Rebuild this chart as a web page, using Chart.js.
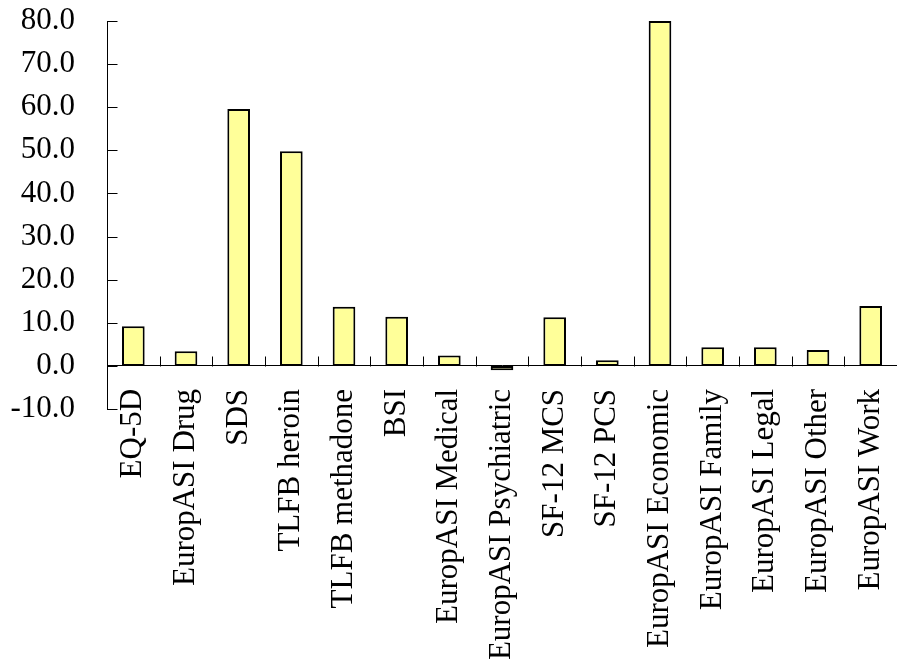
<!DOCTYPE html>
<html>
<head>
<meta charset="utf-8">
<script src="https://cdn.jsdelivr.net/npm/chart.js@4/dist/chart.umd.min.js"></script>
<style>
  html, body { margin: 0; padding: 0; background: #ffffff; }
  #wrap { width: 897px; height: 661px; }
</style>
</head>
<body>
<div id="wrap"><canvas id="chart" width="897" height="661"></canvas></div>
<script>
// Outcome measures and their values
const categories = [
  'EQ-5D', 'EuropASI Drug', 'SDS', 'TLFB heroin', 'TLFB methadone', 'BSI',
  'EuropASI Medical', 'EuropASI Psychiatric', 'SF-12 MCS', 'SF-12 PCS',
  'EuropASI Economic', 'EuropASI Family', 'EuropASI Legal', 'EuropASI Other',
  'EuropASI Work'
];
const values = [9.2, 3.4, 59.6, 49.8, 13.7, 11.4, 2.4, -1.0, 11.3, 1.3, 80.0, 4.3, 4.3, 3.7, 13.9];
const yMin = -10;
const yMax = 80;
const yStep = 10;

const FONT = { family: '"Liberation Serif", "Times New Roman", serif', size: 31 };

// Short tick marks pointing into the plot area
const inwardTicks = {
  id: 'inwardTicks',
  afterDatasetsDraw(chart) {
    const { ctx, scales: { x, y } } = chart;
    const len = 10;
    ctx.save();
    ctx.strokeStyle = '#000000';
    ctx.lineWidth = 1;
    ctx.beginPath();
    const ax = Math.round(x.left) + 0.5;
    y.ticks.forEach(t => {
      const py = Math.round(y.getPixelForValue(t.value)) + 0.5;
      ctx.moveTo(ax, py);
      ctx.lineTo(ax + len, py);
    });
    const y0 = Math.round(y.getPixelForValue(0)) + 0.5;
    for (let i = 1; i < categories.length; i++) {
      const px = Math.round((x.getPixelForValue(i - 1) + x.getPixelForValue(i)) / 2) + 0.5;
      ctx.moveTo(px, y0);
      ctx.lineTo(px, y0 - len);
    }
    ctx.stroke();
    ctx.restore();
  }
};

new Chart(document.getElementById('chart'), {
  type: 'bar',
  data: {
    labels: categories,
    datasets: [{
      data: values,
      backgroundColor: '#FFFF99',
      borderColor: '#000000',
      borderWidth: 2,
      borderSkipped: false,
      barPercentage: 0.43,
      categoryPercentage: 1.0
    }]
  },
  options: {
    responsive: false,
    animation: false,
    layout: { padding: { left: 0, top: 21, right: 0, bottom: 252 } },
    plugins: { legend: { display: false }, tooltip: { enabled: false } },
    scales: {
      x: {
        type: 'category',
        position: { y: 0 },
        grid: { display: false },
        border: { display: true, color: '#000000', width: 1 },
        ticks: {
          color: '#000000',
          font: FONT,
          minRotation: 90,
          maxRotation: 90,
          autoSkip: false,
          padding: 15
        },
        afterFit(scale) {
          scale.height = 0;
          scale.paddingLeft = 0;
          scale.paddingRight = 0;
          scale.paddingTop = 0;
          scale.paddingBottom = 0;
        }
      },
      y: {
        min: yMin,
        max: yMax,
        grid: { display: false },
        border: { display: true, color: '#000000', width: 1 },
        ticks: {
          stepSize: yStep,
          color: '#000000',
          font: FONT,
          padding: 24,
          callback: v => Number(v).toFixed(1)
        },
        afterFit(scale) {
          scale.width = 107;
          scale.paddingTop = 0;
          scale.paddingBottom = 0;
        }
      }
    }
  },
  plugins: [inwardTicks]
});
</script>
</body>
</html>
